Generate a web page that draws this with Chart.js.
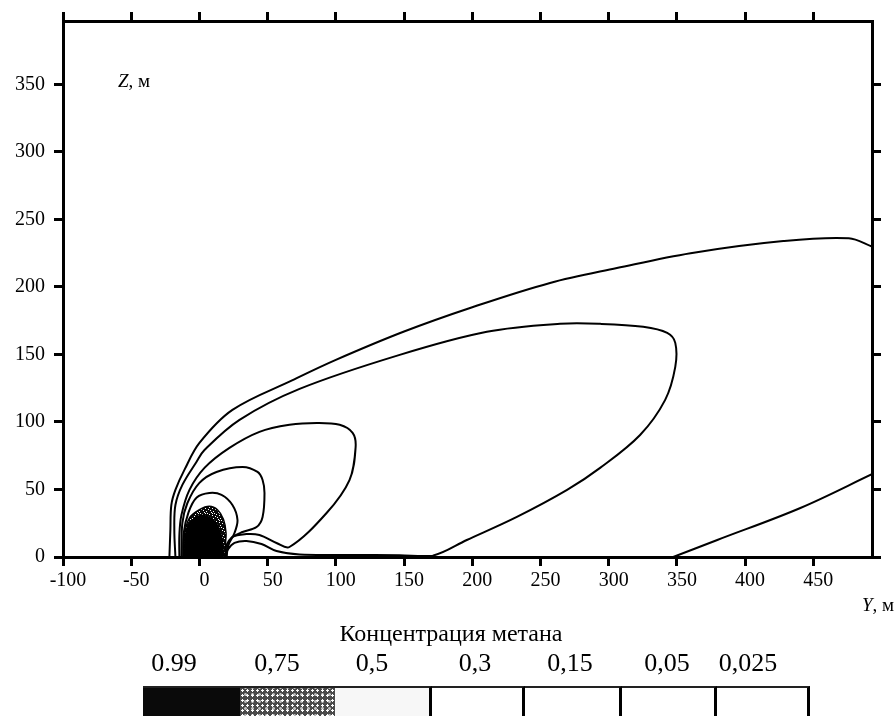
<!DOCTYPE html>
<html>
<head>
<meta charset="utf-8">
<script src="https://cdn.jsdelivr.net/npm/chart.js@4.4.1/dist/chart.umd.min.js"></script>
<style>
  html, body { margin: 0; padding: 0; background: #fff; }
  #wrap { position: relative; width: 896px; height: 716px; overflow: hidden;
          font-family: 'Liberation Serif', 'Times New Roman', serif; color: #000; }
  #chart { position: absolute; left: 0; top: 0; }
  .txt { position: absolute; white-space: nowrap; line-height: 1; }
  .lev { position: absolute; top: 650px; font-size: 26px; line-height: 1; transform: translateX(-50%); white-space: nowrap; }
  .box { position: absolute; top: 686px; height: 40px; box-sizing: border-box; }
</style>
</head>
<body>
<div id="wrap">
  <canvas id="chart" width="896" height="716"></canvas>
  <div class="txt" style="left:118px; top:71px; font-size:19px;"><i>Z</i>, м</div>
  <div class="txt" style="left:862px; top:595px; font-size:19px;"><i>Y</i>, м</div>
  <div class="txt" style="left:451px; top:621px; font-size:24px; transform:translateX(-50%);">Концентрация метана</div>
  <div id="legend"></div>
</div>
<script>
// ==================== DATA ====================
// axis ranges / tick step (metres)
const X_MIN = -100, X_MAX = 493;
const Y_MIN = 0, Y_MAX = 397;
const TICK_STEP = 50;

// legend levels (methane concentration)
const levels = ['0.99', '0,75', '0,5', '0,3', '0,15', '0,05', '0,025'];
const levelCenters = [174, 277, 372, 475, 570, 667, 748];
const levelEdges = [143, 240, 335, 432, 525, 622, 717, 810];

// contour 0,025 (outer) - upper branch and lower branch, [Y, Z]
const c025Upper = [[-22,0],[-21.3,20],[-20.6,38.5],[-17.6,49.7],[-11,64.5],[0,84.5],[24.2,109],
  [68.3,131],[100,146],[150,167],[200,185],[257,203],[306,214],[360,225],[428,234],[476,236],[493,230]];
const c025Lower = [[493.4,61.5],[440.5,36.3],[379.6,12.6],[347.3,0]];

// contour 0,05
const c05 = [[-17.6,0],[-18.4,20],[-17.6,38.5],[-12.5,53.4],[-2.2,70.4],[3.7,79.3],[29.4,101.6],
  [73.4,124.5],[146.8,149.7],[210.7,166.8],[264.3,172.7],[293.7,172.7],[325.3,170.5],[342.9,166],
  [348.8,158.6],[348.8,140.8],[341.4,116.4],[323,90.4],[293.7,66],[269.5,49.7],[232.7,29.7],
  [196,12.6],[171,1],[146.8,1.3],[110,1.5],[73.4,1.8],[56.5,4.4],[45.5,9.6],[34.5,11.9],
  [25.7,10.4],[20.6,5.2],[19,0]];

// contour 0,15
const c15 = [[-14.7,0],[-14.7,16.3],[-13.2,31],[-7.3,49.7],[3.7,66],[22,80.8],[44,92.7],[66,97.9],
  [86,99.3],[102.8,97.9],[112.3,91.9],[114.5,81.5],[110,57],[93.2,32.6],[66,7.4],[56.5,10.4],
  [44,16.3],[34.5,17],[24.2,14.8],[20.6,7.4],[19.8,0]];

// contour 0,3
const c3 = [[-13.2,0],[-12.5,25.2],[-8.8,40],[0,54.9],[12.5,63],[31.6,66.7],[42.6,63],[46.3,57],
  [47.7,47.4],[46.3,29.7],[41.9,22.2],[31.6,18.5],[24.2,14.8],[19.8,8.9],[19,0]];

// contour 0,5
const c5 = [[-12,0],[-11.5,17.8],[-8,33],[-2,44],[7.3,47.4],[16.2,46],[24.2,38.5],
  [27.9,27.4],[25.7,17.8],[21.3,8.9],[19.8,0]];

// source zone: 0,75 (speckled) and 0,99 (black)
const zone75 = [[-11.5,0],[-11,16],[-7.3,29],[0,35],[7.3,37.5],[13.2,35],[17.6,28],
  [19.5,18],[19,7.4],[19.8,0]];
const zone99 = [[-11.5,0],[-10.5,15],[-7.3,25],[-2,30],[4,31],[10,28],[14.7,21],[17,11],[18,0]];

// ==================== HELPERS ====================
const pts = arr => arr.map(p => ({ x: p[0], y: p[1] }));

function speckle() {
  const c = document.createElement('canvas');
  c.width = 7; c.height = 7;
  const g = c.getContext('2d');
  g.fillStyle = '#0a0a0a';
  g.fillRect(0, 0, 7, 7);
  g.fillStyle = '#fff';
  [[1,1],[4,2],[2,4],[5,5],[0,6],[6,3],[3,0],[2,2]].forEach(p => g.fillRect(p[0], p[1], 1, 1));
  return g.createPattern(c, 'repeat');
}

function contour(label, data, order) {
  return {
    label, data: pts(data), showLine: true, pointRadius: 0,
    borderColor: '#000', borderWidth: 2, tension: 0.35, fill: false, order
  };
}

const keepSteps = s => { s.ticks = s.ticks.filter(t => t.value % TICK_STEP === 0); };

// ==================== CHART ====================
const ctx = document.getElementById('chart').getContext('2d');
new Chart(ctx, {
  type: 'scatter',
  data: {
    datasets: [
      contour('0,025', c025Upper, 1),
      contour('0,025b', c025Lower, 1),
      contour('0,05', c05, 1),
      contour('0,15', c15, 1),
      contour('0,3', c3, 1),
      contour('0,5', c5, 1),
      { label: '0,75', data: pts(zone75), showLine: true, pointRadius: 0, borderColor: '#000',
        borderWidth: 1.5, tension: 0.35, fill: 'origin', backgroundColor: speckle(), order: 3 },
      { label: '0,99', data: pts(zone99), showLine: true, pointRadius: 0, borderColor: '#000',
        borderWidth: 1, tension: 0.35, fill: 'origin', backgroundColor: '#000', order: 2 }
    ]
  },
  options: {
    responsive: false,
    animation: false,
    layout: { padding: 0 },
    plugins: { legend: { display: false }, tooltip: { enabled: false } },
    scales: {
      x: {
        type: 'linear', position: 'bottom', min: X_MIN, max: X_MAX,
        afterBuildTicks: keepSteps,
        afterFit: s => { s.height = 159; },
        ticks: { stepSize: TICK_STEP, color: '#000', padding: 3, labelOffset: 5,
                 font: { family: 'Liberation Serif', size: 20 }, maxRotation: 0 },
        grid: { drawOnChartArea: false, drawTicks: true, tickLength: 9, tickWidth: 3, tickColor: '#000', lineWidth: 3 },
        border: { display: true, width: 3, color: '#000' }
      },
      x2: {
        type: 'linear', position: 'top', min: X_MIN, max: X_MAX, display: true,
        afterBuildTicks: keepSteps,
        afterFit: s => { s.height = 21; },
        ticks: { stepSize: TICK_STEP, display: false },
        grid: { drawOnChartArea: false, drawTicks: true, tickLength: 9, tickWidth: 3, tickColor: '#000', lineWidth: 3 },
        border: { display: true, width: 3, color: '#000' }
      },
      y: {
        type: 'linear', position: 'left', min: Y_MIN, max: Y_MAX,
        afterBuildTicks: keepSteps,
        afterFit: s => { s.width = 63; },
        ticks: { stepSize: TICK_STEP, color: '#000', padding: 9,
                 font: { family: 'Liberation Serif', size: 20 } },
        grid: { drawOnChartArea: false, drawTicks: true, tickLength: 9, tickWidth: 3, tickColor: '#000', lineWidth: 3 },
        border: { display: true, width: 3, color: '#000' }
      },
      y2: {
        type: 'linear', position: 'right', min: Y_MIN, max: Y_MAX, display: true,
        afterBuildTicks: keepSteps,
        afterFit: s => { s.width = 24; },
        ticks: { stepSize: TICK_STEP, display: false },
        grid: { drawOnChartArea: false, drawTicks: true, tickLength: 9, tickWidth: 3, tickColor: '#000', lineWidth: 3 },
        border: { display: true, width: 3, color: '#000' }
      }
    }
  }
});

// ==================== LEGEND (colour scale) ====================
const fills = ['#0a0a0a', 'speck', '#f7f7f7', '#fff', '#fff', '#fff', '#fff'];
let html = '';
levels.forEach((lv, i) => {
  html += `<div class="lev" style="left:${levelCenters[i]}px">${lv}</div>`;
  const l = levelEdges[i], w = levelEdges[i + 1] - l;
  let style = `left:${l}px;width:${w}px;border-top:2px solid #222;`;
  if (fills[i] === 'speck') {
    style += 'background-color:#4a4a4a;background-image:radial-gradient(#fff 30%, transparent 36%),radial-gradient(#bbb 25%, transparent 32%);background-size:5px 5px,7px 7px;background-position:0 0,2px 3px;';
  } else {
    style += `background:${fills[i]};`;
  }
  if (i >= 2) style += 'border-right:3px solid #000;';
  html += `<div class="box" style="${style}"></div>`;
});
document.getElementById('legend').innerHTML = html;
</script>
</body>
</html>
